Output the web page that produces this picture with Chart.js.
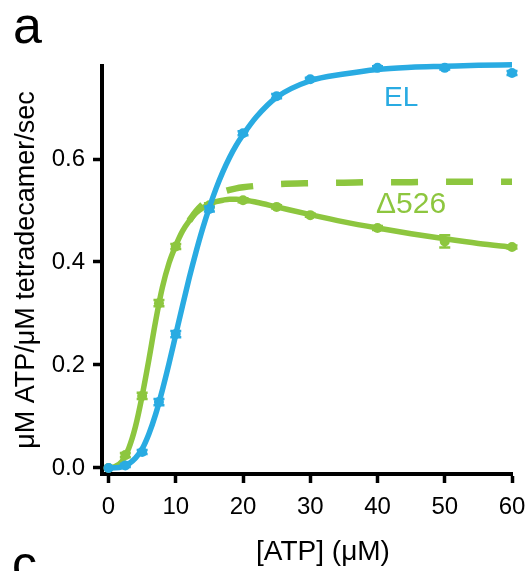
<!DOCTYPE html>
<html><head><meta charset="utf-8">
<script src="https://cdn.jsdelivr.net/npm/chart.js@4"></script>
<style>html,body{margin:0;padding:0;background:#fff;}#wrap{width:529px;height:571px;position:relative;}</style>
</head><body><div id="wrap"><canvas id="c" width="529" height="571"></canvas></div>
<script>
// ---- data ----
const xTicks = [0, 10, 20, 30, 40, 50, 60];
const yTicks = [0, 0.2, 0.4, 0.6];

// EL measured points
const elX   = [0, 2.5, 5, 7.5, 10, 15, 20, 25, 30, 40, 50, 60];
const elY   = [0, 0.005, 0.031, 0.128, 0.26, 0.503, 0.65, 0.722, 0.755, 0.777, 0.777, 0.767];
const elErr = [0, 0.003, 0.004, 0.006, 0.006, 0.005, 0.004, 0.004, 0.003, 0.003, 0.003, 0.004];

// Δ526 measured points
const d526X   = [0, 2.5, 5, 7.5, 10, 15, 20, 25, 30, 40, 50, 60];
const d526Y   = [0, 0.025, 0.14, 0.32, 0.43, 0.51, 0.52, 0.507, 0.491, 0.466, 0.44, 0.429];
const d526Err = [0, 0.004, 0.006, 0.006, 0.005, 0.004, 0.004, 0.003, 0.003, 0.004, 0.012, 0.003];

// fitted curves
const fitX     = [0, 1, 2, 3, 4, 5, 6, 7, 8, 9, 10, 11, 12, 13, 14, 15, 16, 17, 18, 19, 20, 22, 25, 30, 35, 40, 45, 50, 55, 60];
const elFitY   = [0, 0.0002, 0.002, 0.008, 0.019, 0.037, 0.066, 0.104, 0.151, 0.203, 0.259, 0.315, 0.369, 0.419, 0.465, 0.506, 0.543, 0.575, 0.603, 0.627, 0.647, 0.682, 0.72, 0.752, 0.765, 0.774, 0.778, 0.780, 0.782, 0.783];
const d526FitY = [0, 0.003, 0.013, 0.038, 0.08, 0.14, 0.21, 0.285, 0.35, 0.398, 0.432, 0.46, 0.48, 0.495, 0.505, 0.512, 0.517, 0.52, 0.522, 0.522, 0.521, 0.516, 0.507, 0.492, 0.478, 0.466, 0.455, 0.445, 0.436, 0.429];
// dashed curve (no substrate inhibition); below x = 12 it lies under the solid curve
const d526NoInhX = [12, 13, 14, 15, 16, 17, 18, 19, 20, 22, 25, 30, 35, 40, 45, 50, 55, 60];
const d526NoInhY = [0.48, 0.498, 0.512, 0.522, 0.53, 0.536, 0.54, 0.543, 0.545, 0.548, 0.551, 0.553, 0.554, 0.555, 0.555, 0.556, 0.556, 0.556];

const seriesNames = ['EL', 'Δ526'];
const xTitle = '[ATP] (μM)';
const yTitle = 'μM ATP/μM tetradecamer/sec';

const BLUE = '#29ABE2', GREEN = '#8DC63F';
const FONT = '"Liberation Sans", Arial, Helvetica, sans-serif';

const pts = (xs, ys) => xs.map((x, i) => ({x: x, y: ys[i]}));

const errorBarPlugin = {
  id: 'errorBars',
  afterDatasetDraw(chart, args) {
    const ds = chart.data.datasets[args.index];
    if (!ds.errorBars) return;
    const xs = chart.scales.x, ys = chart.scales.y, ctx = chart.ctx;
    ctx.save();
    ctx.strokeStyle = ds.pointBackgroundColor;
    ctx.lineWidth = 2.5;
    ds.data.forEach((p, i) => {
      const e = ds.errorBars[i];
      if (!e) return;
      const px = xs.getPixelForValue(p.x);
      const y1 = ys.getPixelForValue(p.y + e), y2 = ys.getPixelForValue(p.y - e);
      ctx.beginPath();
      ctx.moveTo(px, y1); ctx.lineTo(px, y2);
      ctx.moveTo(px - 5.5, y1); ctx.lineTo(px + 5.5, y1);
      ctx.moveTo(px - 5.5, y2); ctx.lineTo(px + 5.5, y2);
      ctx.stroke();
    });
    ctx.restore();
  }
};

const textPlugin = {
  id: 'texts',
  afterDraw(chart) {
    const ctx = chart.ctx;
    ctx.save();
    ctx.textBaseline = 'alphabetic';
    ctx.fillStyle = '#000';
    ctx.textAlign = 'left';
    ctx.font = '52px ' + FONT;
    ctx.fillText('a', 13, 43);
    ctx.font = '50px ' + FONT;
    ctx.fillText('c', 12, 581);
    ctx.font = '28px ' + FONT;
    ctx.textAlign = 'center';
    ctx.fillText(xTitle, 323, 560);
    ctx.textAlign = 'left';
    ctx.font = '28px ' + FONT;
    ctx.fillStyle = BLUE;
    ctx.fillText(seriesNames[0], 384, 106);
    ctx.fillStyle = GREEN;
    ctx.font = '30px ' + FONT;
    ctx.fillText(seriesNames[1], 376, 213);
    ctx.restore();
  }
};

new Chart(document.getElementById('c'), {
  type: 'scatter',
  data: {
    datasets: [
      {label: 'EL data', data: pts(elX, elY), errorBars: elErr, showLine: false,
       pointRadius: 5, pointHoverRadius: 5, pointBackgroundColor: BLUE, pointBorderWidth: 0, borderColor: BLUE, clip: false},
      {label: 'EL fit', data: pts(fitX, elFitY), showLine: true, pointRadius: 0, borderColor: BLUE,
       borderWidth: 5.5, cubicInterpolationMode: 'monotone', clip: false},
      {label: 'Δ526 data', data: pts(d526X, d526Y), errorBars: d526Err, showLine: false,
       pointRadius: 5, pointHoverRadius: 5, pointBackgroundColor: GREEN, pointBorderWidth: 0, borderColor: GREEN, clip: false},
      {label: 'Δ526 fit', data: pts(fitX, d526FitY), showLine: true, pointRadius: 0, borderColor: GREEN,
       borderWidth: 5.5, cubicInterpolationMode: 'monotone', clip: false},
      {label: 'Δ526 fit (no inhibition)', data: pts(d526NoInhX, d526NoInhY), showLine: true, pointRadius: 0, borderColor: GREEN,
       borderWidth: 6.5, borderDash: [27, 28], borderDashOffset: 6, borderCapStyle: 'butt', cubicInterpolationMode: 'monotone', clip: false}
    ]
  },
  options: {
    responsive: false,
    animation: false,
    devicePixelRatio: 1,
    layout: {padding: {left: 0, top: 66, right: 17, bottom: 0}},
    plugins: {legend: {display: false}, tooltip: {enabled: false}},
    scales: {
      x: {
        type: 'linear', min: -0.97, max: 60,
        afterBuildTicks: s => { s.ticks = xTicks.map(v => ({value: v})); },
        afterFit: s => { s.height = 97; s.paddingLeft = 0; s.paddingRight = 0; },
        grid: {display: true, drawOnChartArea: false, drawTicks: true, tickLength: 9, tickWidth: 3.5, tickColor: '#000', color: '#000'},
        border: {display: true, width: 4, color: '#000'},
        ticks: {font: {family: FONT, size: 24}, color: '#000', padding: 10, maxRotation: 0, callback: v => String(v)}
      },
      y: {
        type: 'linear', min: -0.0117, max: 0.7806,
        afterBuildTicks: s => { s.ticks = yTicks.map(v => ({value: v})); },
        afterFit: s => { s.width = 102; s.paddingTop = 0; s.paddingBottom = 0; },
        grid: {display: true, drawOnChartArea: false, drawTicks: true, tickLength: 9, tickWidth: 3.5, tickColor: '#000', color: '#000'},
        border: {display: true, width: 4, color: '#000'},
        ticks: {font: {family: FONT, size: 24}, color: '#000', padding: 8, callback: v => Number(v).toFixed(1)},
        title: {display: true, text: yTitle, color: '#000', font: {family: FONT, size: 27}, padding: {top: 10, bottom: 0}}
      }
    }
  },
  plugins: [errorBarPlugin, textPlugin]
});
</script></body></html>
